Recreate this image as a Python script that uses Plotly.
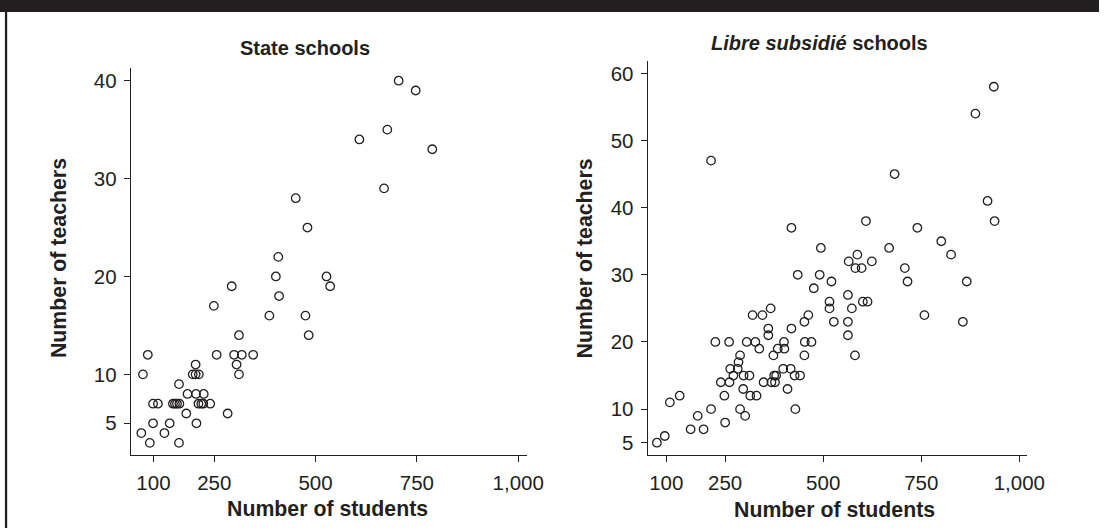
import plotly.graph_objects as go

# ---- data ----
state_students = [705, 747, 677, 608, 788, 669, 451, 480, 408, 402, 527, 536, 293, 410, 249,
                  386, 475, 483, 311, 256, 299, 318, 346, 86, 305, 204, 311, 74, 197, 204, 212,
                  163, 184, 205, 224,
                  99, 111, 148, 153, 158, 164, 211, 218, 223, 240,
                  181, 283, 99, 140, 206, 127, 70, 91, 163]
state_teachers = [40, 39, 35, 34, 33, 29, 28, 25, 22, 20, 20, 19, 19, 18, 17,
                  16, 16, 14, 14, 12, 12, 12, 12, 12, 11, 11, 10, 10, 10, 10, 10,
                  9, 8, 8, 8,
                  7, 7, 7, 7, 7, 7, 7, 7, 7, 7,
                  6, 6, 5, 5, 5, 4, 4, 3, 3]

libre_students = [935, 888, 214, 682, 919, 937, 609, 419, 740, 801, 668, 494, 826, 587, 565,
                  624, 582, 598, 708, 435, 491, 521, 715, 866, 476, 563, 516, 516, 601, 613,
                  573, 758, 320, 345, 366, 462, 452, 527, 563, 856, 419, 360, 360, 563,
                  225, 260, 305, 327, 400, 453, 470,
                  337, 384, 401,
                  581, 373, 288, 452,
                  284,
                  263, 282, 398, 417,
                  271, 297, 312, 375, 380, 427, 441,
                  239, 261, 348, 368, 377,
                  296, 409,
                  134, 248, 314, 330,
                  109,
                  214, 288, 429,
                  180, 301,
                  250,
                  162, 195,
                  96,
                  76]
libre_teachers = [58, 54, 47, 45, 41, 38, 38, 37, 37, 35, 34, 34, 33, 33, 32,
                  32, 31, 31, 31, 30, 30, 29, 29, 29, 28, 27, 26, 25, 26, 26,
                  25, 24, 24, 24, 25, 24, 23, 23, 23, 23, 22, 22, 21, 21,
                  20, 20, 20, 20, 20, 20, 20,
                  19, 19, 19,
                  18, 18, 18, 18,
                  17,
                  16, 16, 16, 16,
                  15, 15, 15, 15, 15, 15, 15,
                  14, 14, 14, 14, 14,
                  13, 13,
                  12, 12, 12, 12,
                  11,
                  10, 10, 10,
                  9, 9,
                  8,
                  7, 7,
                  6,
                  5]

x_tickvals = [100, 250, 500, 750, 1000]
x_ticktext = ["100", "250", "500", "750", "1,000"]
y1_tickvals = [5, 10, 20, 30, 40]
y2_tickvals = [5, 10, 20, 30, 40, 50, 60]

W, H = 1117, 528
FONT = "Liberation Sans, Arial, Helvetica, sans-serif"
INK = "#231f20"

marker = dict(symbol="circle-open", size=8.5, color=INK, line=dict(width=1.3, color=INK))

fig = go.Figure()
fig.add_trace(go.Scatter(x=state_students, y=state_teachers, mode="markers",
                         marker=marker, xaxis="x", yaxis="y", showlegend=False))
fig.add_trace(go.Scatter(x=libre_students, y=libre_teachers, mode="markers",
                         marker=marker, xaxis="x2", yaxis="y2", showlegend=False))

axis_common = dict(showline=True, linecolor=INK, linewidth=1.3, ticks="outside",
                   ticklen=6, tickwidth=1.3, tickcolor=INK, showgrid=False, zeroline=False,
                   tickfont=dict(family=FONT, size=20.5, color=INK), ticklabelstandoff=3,
                   fixedrange=True)


def px(x):
    return x / W


def py(y):
    return 1 - y / H


fig.update_layout(
    width=W, height=H,
    margin=dict(l=0, r=0, t=0, b=0),
    paper_bgcolor="white", plot_bgcolor="white",
    font=dict(family=FONT, color=INK),
    xaxis=dict(domain=[px(133), px(536)], range=[44.2, 1022.6], anchor="y",
               tickvals=x_tickvals, ticktext=x_ticktext, **axis_common),
    yaxis=dict(domain=[py(455), py(68)], range=[1.76, 41.3], anchor="x",
               tickvals=y1_tickvals, **axis_common),
    xaxis2=dict(domain=[px(658.3), px(1044)], range=[52.5, 1020], anchor="y2",
                tickvals=x_tickvals, ticktext=x_ticktext, **axis_common),
    yaxis2=dict(domain=[py(455), py(60.7)], range=[3.17, 61.88], anchor="x2",
                tickvals=y2_tickvals, **axis_common),
)

shapes = [
    dict(type="rect", xref="paper", yref="paper", x0=0, x1=1, y0=py(12), y1=1,
         fillcolor=INK, line=dict(width=0), layer="above"),
    dict(type="rect", xref="paper", yref="paper", x0=px(5), x1=px(7.3), y0=0, y1=py(12),
         fillcolor=INK, line=dict(width=0), layer="above"),
]
fig.update_layout(shapes=shapes)

title_font = dict(family=FONT, size=20, color=INK)
lab_font = dict(family=FONT, size=21.3, color=INK)
annotations = [
    dict(text="<b>State schools</b>", x=px(310), y=py(48), xref="paper", yref="paper",
         showarrow=False, xanchor="center", yanchor="middle", font=title_font),
    dict(text="<b><i>Libre subsidié</i> schools</b>", x=px(833), y=py(43), xref="paper",
         yref="paper", showarrow=False, xanchor="center", yanchor="middle", font=title_font),
    dict(text="<b>Number of students</b>", x=px(333), y=py(509), xref="paper", yref="paper",
         showarrow=False, xanchor="center", yanchor="middle", font=lab_font),
    dict(text="<b>Number of students</b>", x=px(848), y=py(510), xref="paper", yref="paper",
         showarrow=False, xanchor="center", yanchor="middle", font=lab_font),
    dict(text="<b>Number of teachers</b>", x=px(60), y=py(258), xref="paper", yref="paper",
         showarrow=False, xanchor="center", yanchor="middle", textangle=-90, font=lab_font),
    dict(text="<b>Number of teachers</b>", x=px(595), y=py(258), xref="paper", yref="paper",
         showarrow=False, xanchor="center", yanchor="middle", textangle=-90, font=lab_font),
]
fig.update_layout(annotations=annotations)

fig.write_html("out.html", config={"displayModeBar": False})
